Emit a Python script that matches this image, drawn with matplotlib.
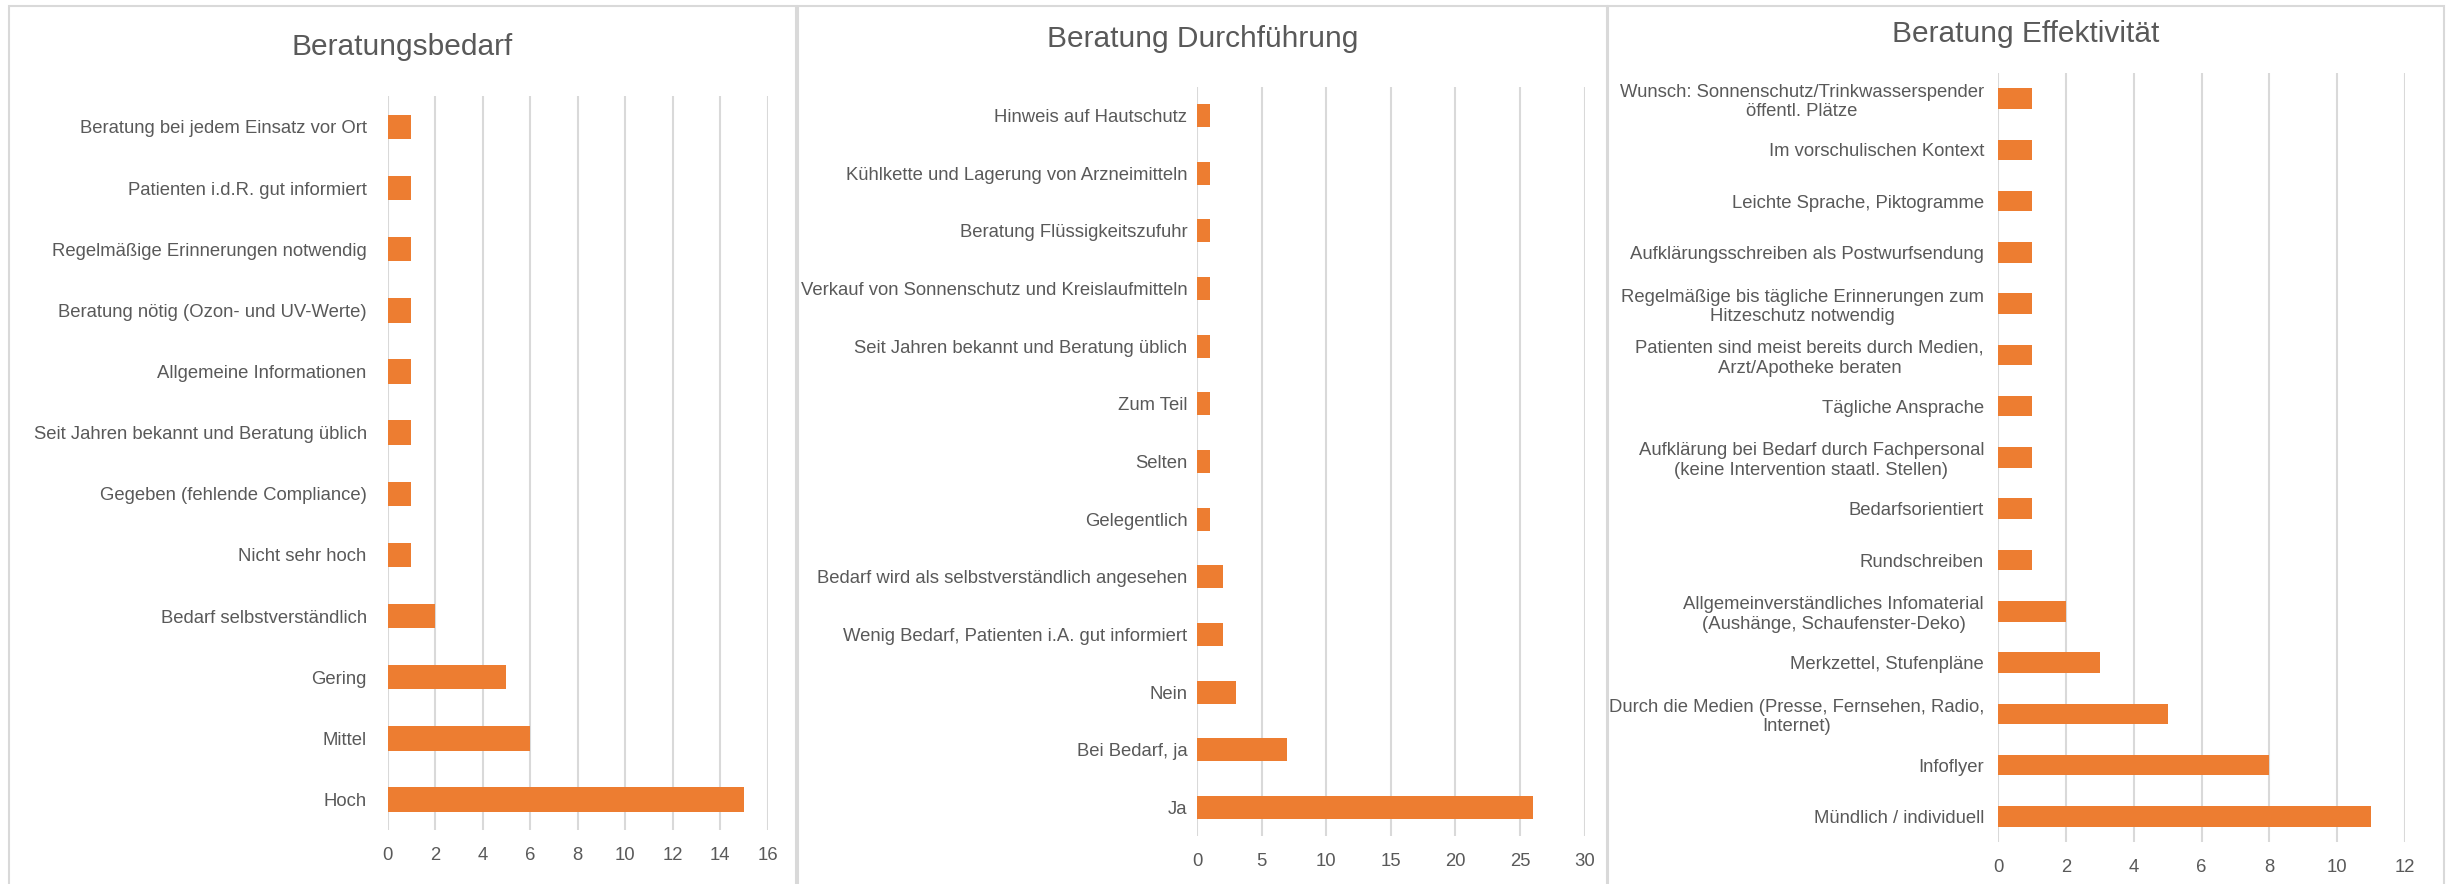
import matplotlib.pyplot as plt
from matplotlib.patches import Rectangle

plt.rcParams['font.family'] = ['Liberation Sans', 'DejaVu Sans']

# Beratungsbedarf
bedarf_labels = ["Beratung bei jedem Einsatz vor Ort", "Patienten i.d.R. gut informiert",
                 "Regelmäßige Erinnerungen notwendig", "Beratung nötig (Ozon- und UV-Werte)",
                 "Allgemeine Informationen", "Seit Jahren bekannt und Beratung üblich",
                 "Gegeben (fehlende Compliance)", "Nicht sehr hoch", "Bedarf selbstverständlich",
                 "Gering", "Mittel", "Hoch"]
bedarf_values = [1, 1, 1, 1, 1, 1, 1, 1, 2, 5, 6, 15]

# Beratung Durchführung
durch_labels = ["Hinweis auf Hautschutz", "Kühlkette und Lagerung von Arzneimitteln",
                "Beratung Flüssigkeitszufuhr", "Verkauf von Sonnenschutz und Kreislaufmitteln",
                "Seit Jahren bekannt und Beratung üblich", "Zum Teil", "Selten", "Gelegentlich",
                "Bedarf wird als selbstverständlich angesehen",
                "Wenig Bedarf, Patienten i.A. gut informiert", "Nein", "Bei Bedarf, ja", "Ja"]
durch_values = [1, 1, 1, 1, 1, 1, 1, 1, 2, 2, 3, 7, 26]

# Beratung Effektivität
eff_labels = ["Wunsch: Sonnenschutz/Trinkwasserspender\nöffentl. Plätze",
              "Im vorschulischen Kontext", "Leichte Sprache, Piktogramme",
              "Aufklärungsschreiben als Postwurfsendung",
              "Regelmäßige bis tägliche Erinnerungen zum\nHitzeschutz notwendig",
              "Patienten sind meist bereits durch Medien,\nArzt/Apotheke beraten",
              "Tägliche Ansprache",
              "Aufklärung bei Bedarf durch Fachpersonal\n(keine Intervention staatl. Stellen)",
              "Bedarfsorientiert", "Rundschreiben",
              "Allgemeinverständliches Infomaterial\n(Aushänge, Schaufenster-Deko)",
              "Merkzettel, Stufenpläne",
              "Durch die Medien (Presse, Fernsehen, Radio,\nInternet)",
              "Infoflyer", "Mündlich / individuell"]
eff_values = [1, 1, 1, 1, 1, 1, 1, 1, 1, 1, 2, 3, 5, 8, 11]

orange = "#ED7D31"
grid = "#D9D9D9"
txt = "#595959"

fig = plt.figure(figsize=(24.53, 8.84), dpi=100)

W, H = 2453, 884
# panel frames (pixels): x0, x1, title y
panels = [(9, 796, 47), (798, 1607, 39), (1608, 2444, 34)]
for x0, x1, ty in panels:
    fig.patches.append(Rectangle((x0 / W, -0.05), (x1 - x0) / W, 1.05 - 6 / H,
                                 transform=fig.transFigure, fill=False,
                                 edgecolor=grid, linewidth=1.5))

titles = ["Beratungsbedarf", "Beratung Durchführung", "Beratung Effektivität"]
axes_pos = [[0.158, 0.061, 0.155, 0.830],
            [0.488, 0.054, 0.158, 0.848],
            [0.8145, 0.0475, 0.166, 0.870]]
label_pads = [15, 7, 10]
data = [(bedarf_labels, bedarf_values, 16, 2),
        (durch_labels, durch_values, 30, 5),
        (eff_labels, eff_values, 12, 2)]

for (x0, x1, ty), title, pos, lp, (labels, values, xmax, step) in zip(
        panels, titles, axes_pos, label_pads, data):
    ax = fig.add_axes(pos)
    y = list(range(len(labels)))
    ax.barh(y, values, height=0.4, color=orange, zorder=3)
    ax.set_ylim(len(labels) - 0.5, -0.5)
    ax.set_xlim(0, xmax)
    ax.set_xticks(range(0, xmax + 1, step))
    ax.set_yticks(y)
    ax.set_yticklabels(labels, multialignment='center')
    ax.grid(axis='x', color=grid, linewidth=1.5, zorder=0)
    for s in ax.spines.values():
        s.set_visible(False)
    ax.tick_params(axis='both', length=0, labelsize=13.3, labelcolor=txt)
    ax.tick_params(axis='y', pad=lp)
    ax.tick_params(axis='x', pad=12)
    fig.text((x0 + x1) / 2 / W, 1 - ty / H, title, ha='center', va='center',
             fontsize=21.5, color=txt)

fig.savefig("out.png", dpi=100)
